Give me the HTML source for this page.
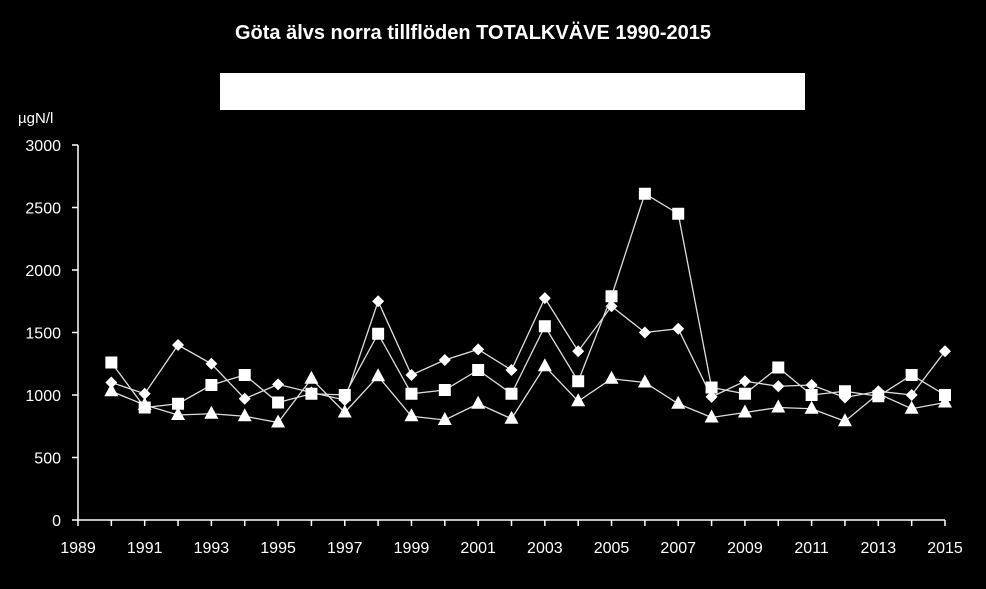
<!DOCTYPE html>
<html><head><meta charset="utf-8"><style>
body{margin:0;background:#000;width:986px;height:584px;overflow:hidden;font-family:"Liberation Sans",sans-serif}
</style></head><body>
<svg id="c" width="986" height="584" xmlns="http://www.w3.org/2000/svg">
<rect width="986" height="584" fill="#000"/>
<text x="473" y="39" fill="#fff" font-size="20" font-weight="bold" text-anchor="middle">Göta älvs norra tillflöden TOTALKVÄVE 1990-2015</text>
<rect x="220" y="73" width="585" height="37" fill="#fff"/>
<text x="18" y="123" fill="#fff" font-size="15">µgN/l</text>
<g id="axes"></g><g id="series"></g>
</svg>
<script>
const years=[1990,1991,1992,1993,1994,1995,1996,1997,1998,1999,2000,2001,2002,2003,2004,2005,2006,2007,2008,2009,2010,2011,2012,2013,2014,2015];
const diamondVals=[1100,1010,1400,1250,970,1085,1020,960,1750,1160,1280,1365,1200,1775,1350,1710,1500,1530,985,1110,1070,1080,980,1030,1000,1350];
const squareVals=[1260,900,930,1080,1160,940,1010,1000,1490,1010,1040,1200,1010,1550,1110,1790,2610,2450,1060,1010,1220,1000,1030,990,1160,1000];
const triangleVals=[1030,920,840,850,830,780,1130,860,1150,830,800,930,810,1230,950,1130,1100,930,820,860,900,890,790,1010,890,940];
const yTicks=[0,500,1000,1500,2000,2500,3000];
const xTicks=[1989,1991,1993,1995,1997,1999,2001,2003,2005,2007,2009,2011,2013,2015];
const NS="http://www.w3.org/2000/svg";
const x0=78,x1=945,y0=520,y1=145;
const xs=y=>x0+(y-1989)*(x1-x0)/26;
const ys=v=>y0-v*(y0-y1)/3000;
const axes=document.getElementById('axes'),ser=document.getElementById('series');
function mk(tag,attrs,parent){const e=document.createElementNS(NS,tag);for(const k in attrs)e.setAttribute(k,attrs[k]);parent.appendChild(e);return e;}
let e=mk('line',{x1:x0,y1:y1,x2:x0,y2:y0,stroke:'#fff','stroke-width':1.5},axes);


e=mk('line',{x1:x0,y1:y0,x2:x1,y2:y0,stroke:'#fff','stroke-width':1.5},axes);


yTicks.forEach(v=>{
 mk('line',{x1:x0-6,y1:ys(v),x2:x0,y2:ys(v),stroke:'#fff','stroke-width':1.5},axes);
 const t=mk('text',{x:x0-17,y:ys(v)+6,fill:'#fff','font-size':16,'text-anchor':'end'},axes);
 t.textContent=v;
 
 
});
for(let y=1989;y<=2015;y++)mk('line',{x1:xs(y),y1:y0,x2:xs(y),y2:y0+6,stroke:'#fff','stroke-width':1.5},axes);
xTicks.forEach(v=>{
 const t=mk('text',{x:xs(v),y:y0+33,fill:'#fff','font-size':16,'text-anchor':'middle'},axes);
 t.textContent=v;
 
 
});
function series(vals,shape,name){
 const g=mk('g',{},ser);
 
 
 mk('polyline',{points:vals.map((v,i)=>xs(years[i])+','+ys(v)).join(' '),fill:'none',stroke:'#ddd','stroke-width':1.3},g);
 vals.forEach((v,i)=>{
  const x=xs(years[i]),y=ys(v);let m;
  if(shape==='d')m=mk('polygon',{points:`${x},${y-6} ${x+6},${y} ${x},${y+6} ${x-6},${y}`,fill:'#fff'},g);
  else if(shape==='s')m=mk('rect',{x:x-6,y:y-6,width:12,height:12,fill:'#fff'},g);
  else m=mk('polygon',{points:`${x},${y-8} ${x+7},${y+5} ${x-7},${y+5}`,fill:'#fff'},g);
  
  
 });
}
series(triangleVals,'t','series-triangle');
series(diamondVals,'d','series-diamond');
series(squareVals,'s','series-square');
</script>
</body></html>
